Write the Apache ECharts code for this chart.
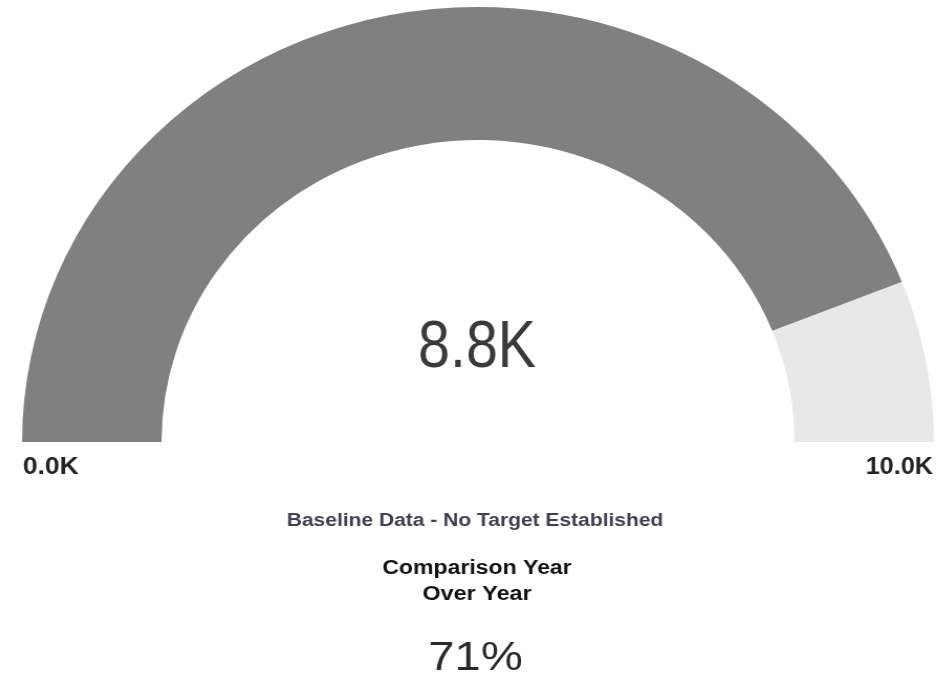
<!DOCTYPE html>
<html><head><meta charset="utf-8">
<script src="https://cdn.jsdelivr.net/npm/echarts@6/dist/echarts.min.js"></script>
<style>
html,body{margin:0;padding:0;background:#fff;overflow:hidden}
#c{width:944px;height:679px;transform:scaleX(1.048);transform-origin:478px 0}
</style>
</head><body><div id="c"></div>
<script>
const gaugeMin = 0;
const gaugeMax = 10000;
const gaugeValue = [8800];
const endLabels = ['0.0K', '10.0K'];
const noteText = ['Baseline Data - No Target Established'];
const comparisonTitle = ['Comparison Year', 'Over Year'];
const comparisonValue = ['71%'];

// the reference gauge is slightly wider than tall; the container is stretched by K,
// so screen positions below are mapped back into chart coordinates.
const K = 1.048, OX = 478;
const px = x => OX + (x - OX) / K;
const FONT = '"Liberation Sans", Arial, sans-serif';
const fmtK = v => (v / 1000).toFixed(1) + 'K';

function txt(text, x, y, font, fill, align, sx) {
  return {
    type: 'text', x: px(x), y: y, scaleX: sx / K, scaleY: 1,
    style: { text: text, font: font, fill: fill, align: align, verticalAlign: 'middle' }
  };
}

const chart = echarts.init(document.getElementById('c'));
chart.setOption({
  animation: false,
  series: [{
    type: 'gauge',
    center: [OX, 442],
    radius: 435,
    startAngle: 180,
    endAngle: 0,
    min: gaugeMin,
    max: gaugeMax,
    progress: { show: true, width: 133, roundCap: false, itemStyle: { color: '#808080' } },
    axisLine: { roundCap: false, lineStyle: { width: 133, color: [[1, '#e8e8e8']] } },
    pointer: { show: false },
    anchor: { show: false },
    axisTick: { show: false },
    splitLine: { show: false },
    axisLabel: { show: false },
    title: { show: false },
    detail: { show: false },
    data: [{ value: gaugeValue[0] }]
  }],
  graphic: [
    txt(fmtK(gaugeValue[0]), 477, 349, '300 66px ' + FONT, '#3a3a3a', 'center', 0.87),
    txt(endLabels[0], 23, 467, 'bold 24px ' + FONT, '#222', 'left', 1.1),
    txt(endLabels[1], 933, 467, 'bold 24px ' + FONT, '#222', 'right', 1.05),
    txt(noteText[0], 475, 521, 'bold 17.5px ' + FONT, '#3d4250', 'center', 1.2),
    txt(comparisonTitle[0], 477, 569, 'bold 19.5px ' + FONT, '#111', 'center', 1.18),
    txt(comparisonTitle[1], 477, 595, 'bold 19.5px ' + FONT, '#111', 'center', 1.2),
    txt(comparisonValue[0], 475.5, 659, '300 41px ' + FONT, '#2a2a2a', 'center', 1.15)
  ]
});
</script></body></html>
